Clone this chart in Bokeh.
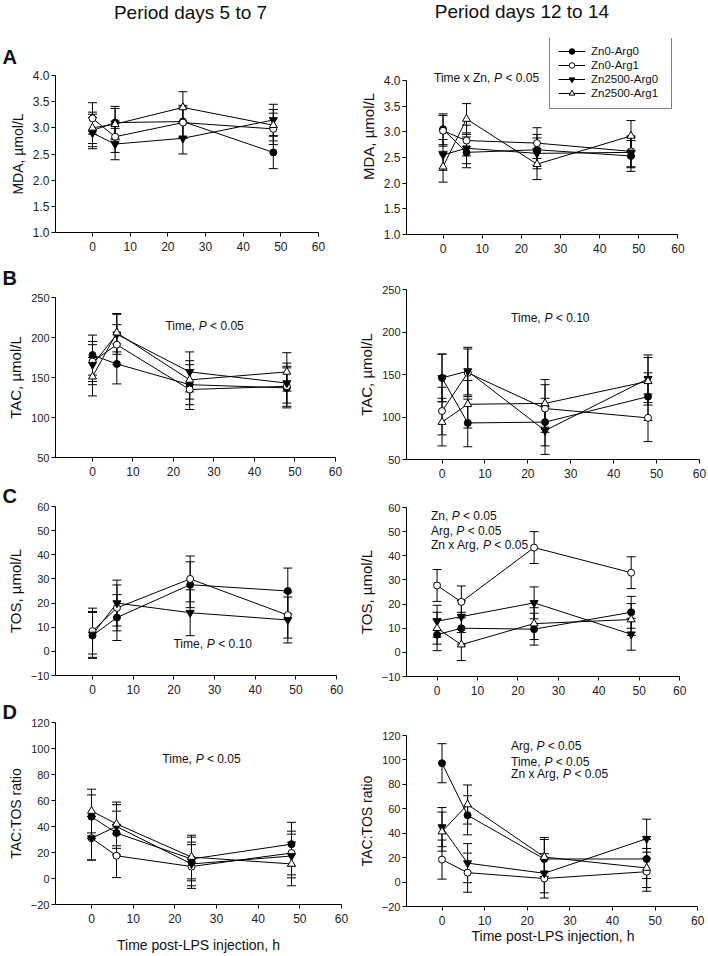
from bokeh.plotting import figure
from bokeh.models import (Range1d, FixedTicker, PrintfTickFormatter, Label, Legend, Title,
                          LegendItem, Whisker, TeeHead, ColumnDataSource)
from bokeh.layouts import row, column
from bokeh.embed import file_html
from bokeh.resources import INLINE

FONT = "Liberation Sans"

# ---------------- data ----------------
hours = [0, 6, 24, 48]
group_names = ["Zn0-Arg0", "Zn0-Arg1", "Zn2500-Arg0", "Zn2500-Arg1"]
hour_ticks = [0, 10, 20, 30, 40, 50, 60]
mda_ticks = [1.0, 1.5, 2.0, 2.5, 3.0, 3.5, 4.0]
tac_ticks = [50, 100, 150, 200, 250]
tos_ticks = [-10, 0, 10, 20, 30, 40, 50, 60]
ratio_ticks = [-20, 0, 20, 40, 60, 80, 100, 120]

# A: MDA, period days 5 to 7
mda5_zn0_arg0 = [2.95, 3.10, 3.12, 2.53]
mda5_zn0_arg1 = [3.18, 2.83, 3.10, 2.98]
mda5_zn2500_arg0 = [2.90, 2.69, 2.80, 3.15]
mda5_zn2500_arg1 = [3.00, 3.07, 3.39, 3.05]
mda5_se = [0.31, 0.30, 0.30, 0.30]
# A: MDA, period days 12 to 14
mda12_zn0_arg0 = [3.05, 2.60, 2.65, 2.53]
mda12_zn0_arg1 = [3.02, 2.83, 2.78, 2.62]
mda12_zn2500_arg0 = [2.55, 2.68, 2.58, 2.60]
mda12_zn2500_arg1 = [2.32, 3.25, 2.37, 2.92]
mda12_se = [0.30, 0.30, 0.30, 0.30]

# B: TAC
tac5_zn0_arg0 = [178, 167, 141, 137]
tac5_zn0_arg1 = [170, 191, 135, 139]
tac5_zn2500_arg0 = [166, 204, 157, 143]
tac5_zn2500_arg1 = [151, 206, 147, 157]
tac5_se = [25, 25, 25, 24]
tac12_zn0_arg0 = [146, 93, 94, 124]
tac12_zn0_arg1 = [107, 152, 110, 99]
tac12_zn2500_arg0 = [146, 154, 84, 145]
tac12_zn2500_arg1 = [94, 115, 116, 142]
tac12_se = [28, 28, 28, 28]

# C: TOS
tos5_zn0_arg0 = [6.6, 14.0, 27.6, 25.0]
tos5_zn0_arg1 = [8.4, 18.0, 30.0, 15.0]
tos5_zn2500_arg0 = [7.0, 20.0, 16.0, 13.0]
tos5_zn2500_arg1 = []
tos5_se = [9.5, 9.5, 9.5, 9.5]
tos12_zn0_arg0 = [7.3, 10.0, 9.6, 16.6]
tos12_zn0_arg1 = [27.7, 20.9, 43.4, 33.0]
tos12_zn2500_arg0 = [12.9, 14.8, 20.5, 7.5]
tos12_zn2500_arg1 = [10.0, 3.2, 11.9, 13.6]
tos12_se = [6.6, 6.6, 6.6, 6.6]

# D: TAC:TOS ratio
ratio5_zn0_arg0 = [47.5, 35.0, 15.0, 26.4]
ratio5_zn0_arg1 = [31.0, 17.5, 9.2, 19.6]
ratio5_zn2500_arg0 = [31.0, 40.0, 11.2, 17.3]
ratio5_zn2500_arg1 = [51.9, 42.0, 16.5, 11.2]
ratio5_se = [16.8, 16.8, 16.8, 16.8]
ratio12_zn0_arg0 = [97.3, 54.7, 18.9, 18.9]
ratio12_zn0_arg1 = [18.4, 7.7, 2.9, 8.5]
ratio12_zn2500_arg0 = [45.0, 15.5, 7.2, 35.5]
ratio12_zn2500_arg1 = [41.3, 63.5, 20.5, 11.5]
ratio12_se = [16.0, 16.0, 16.0, 16.0]

# ---------------- styling ----------------
STYLES = [
    dict(marker="circle", fill_color="black", size=7),
    dict(marker="circle", fill_color="white", size=7),
    dict(marker="inverted_triangle", fill_color="black", size=8),
    dict(marker="triangle", fill_color="white", size=8),
]

# column geometry: width, min_border_left, min_border_right, page x of frame left/right
LEFT_COL = (354, 55, 13, 55, 341)
RIGHT_COL = (354, 48, 9, 402, 699)

W = {' ': 278, ',': 278, '.': 278, '<': 584, 'T': 611, 'i': 222, 'm': 833, 'e': 556,
     'x': 500, 'Z': 611, 'n': 556, 'A': 667, 'r': 333, 'g': 556, 'P': 667}
for d in "0123456789":
    W[d] = 556


def text_width(s, size):
    return sum(W.get(c, 556) for c in s) * size / 1000.0


def add_text(p, x, y, text, size, style="normal", align="left", x_offset=0):
    p.add_layout(Label(x=x, y=y, text=text, text_font=FONT, text_font_size=f"{size}px",
                       text_font_style=style, text_align=align, text_baseline="middle",
                       x_offset=x_offset, text_color="#111111"))


def add_pstat(p, x, y, prefix, suffix, size=12):
    add_text(p, x, y, prefix, size)
    off = text_width(prefix + " ", size)
    add_text(p, x, y, "P", size, style="italic", x_offset=off)
    off += text_width("P ", size)
    add_text(p, x, y, suffix, size, x_offset=off)


def header(col, height, text, x, y):
    w, bl, br, fl, fr = col
    p = figure(width=w, height=height, x_range=Range1d(fl, fr), y_range=Range1d(0, height),
               x_axis_type=None, y_axis_type=None, output_backend="svg", toolbar_location=None,
               min_border=0, min_border_left=bl, min_border_right=br,
               min_border_top=0, min_border_bottom=0)
    p.outline_line_color = None
    p.background_fill_color = "white"
    p.border_fill_color = "white"
    add_text(p, x, y, text, 19, align="center")
    return p


def make_panel(col, height, bt, bb, xr, yr, yticks, yfmt, ylabel, ylab_size, ytick_size,
               series, se, ybounds=None, letter=None, letter_standoff=0, letter_valign="bottom",
               xlabel=None, xlab_standoff=4):
    w, bl, br, fl, fr = col
    p = figure(width=w, height=height, x_range=Range1d(*xr), y_range=Range1d(*yr),
               output_backend="svg", toolbar_location=None, min_border=0,
               min_border_left=bl, min_border_right=br, min_border_top=bt, min_border_bottom=bb)
    p.outline_line_color = None
    p.xgrid.visible = False
    p.ygrid.visible = False
    p.background_fill_color = "white"
    p.border_fill_color = "white"
    for ax in (p.xaxis[0], p.yaxis[0]):
        ax.axis_line_color = "black"
        ax.major_tick_line_color = "black"
        ax.minor_tick_line_color = None
        ax.major_tick_in = 0
        ax.major_tick_out = 4
        ax.major_label_text_font = FONT
        ax.major_label_text_color = "#222222"
        ax.axis_label_text_font = FONT
        ax.axis_label_text_font_style = "normal"
        ax.axis_label_text_color = "#111111"
    p.xaxis.ticker = FixedTicker(ticks=hour_ticks)
    p.xaxis.bounds = (xr[0], 60)
    p.xaxis.major_label_text_font_size = "12px"
    p.xaxis.major_label_standoff = 5
    p.yaxis.ticker = FixedTicker(ticks=yticks)
    if yfmt:
        p.yaxis.formatter = PrintfTickFormatter(format=yfmt)
    if ybounds:
        p.yaxis.bounds = ybounds
    p.yaxis.major_label_text_font_size = f"{ytick_size}px"
    p.yaxis.major_label_standoff = 2
    p.yaxis.axis_label = ylabel
    p.yaxis.axis_label_text_font_size = f"{ylab_size}px"
    p.yaxis.axis_label_standoff = 4
    if xlabel:
        p.xaxis.axis_label = xlabel
        p.xaxis.axis_label_text_font_size = "14px"
        p.xaxis.axis_label_standoff = xlab_standoff
    if letter:
        p.add_layout(Title(text=letter, align="left", offset=2 - bl, vertical_align=letter_valign,
                           standoff=letter_standoff, text_font=FONT, text_font_size="20px",
                           text_font_style="bold", text_color="#111111"), "above")

    sources = []
    for vals, err in zip(series, se):
        if not vals:
            sources.append(None)
            continue
        src = ColumnDataSource(dict(x=hours, y=vals,
                                    upper=[v + err for v in vals],
                                    lower=[v - err for v in vals]))
        sources.append(src)
        p.add_layout(Whisker(base="x", upper="upper", lower="lower", source=src,
                             line_color="black", line_width=1,
                             upper_head=TeeHead(size=9, line_color="black", line_width=1),
                             lower_head=TeeHead(size=9, line_color="black", line_width=1)))
    lines, marks = [], []
    for src in sources:
        lines.append(None if src is None else
                     p.line(x="x", y="y", source=src, line_color="black", line_width=1))
    for src, st in zip(sources, STYLES):
        marks.append(None if src is None else
                     p.scatter(x="x", y="y", source=src, marker=st["marker"], size=st["size"],
                               fill_color=st["fill_color"], line_color="black", line_width=1))
    p._lines = lines
    p._marks = marks
    return p


XLAB = "Time post-LPS injection, h"

# ---- left column (period days 5 to 7) ----
HL = header(LEFT_COL, 35, "Period days 5 to 7", 190, 23)
LA = make_panel(LEFT_COL, 221, 0, 24, (-9.82, 66.1), (1.0, 4.0), mda_ticks, "%.1f", "MDA, µmol/L", 14, 12,
                [mda5_zn0_arg0, mda5_zn0_arg1, mda5_zn2500_arg0, mda5_zn2500_arg1], mda5_se,
                letter="A", letter_standoff=16)
LB = make_panel(LEFT_COL, 226, 0, 25, (-9.14, 61.5), (50, 250), tac_ticks, None, "TAC, µmol/L", 15, 11,
                [tac5_zn0_arg0, tac5_zn0_arg1, tac5_zn2500_arg0, tac5_zn2500_arg1], tac5_se,
                letter="B", letter_standoff=17)
LC = make_panel(LEFT_COL, 216, 0, 23, (-9.10, 61.2), (-10, 60), tos_ticks, None, "TOS, µmol/L", 15, 11,
                [tos5_zn0_arg0, tos5_zn0_arg1, tos5_zn2500_arg0, tos5_zn2500_arg1], tos5_se,
                letter="C", letter_standoff=0)
LD = make_panel(LEFT_COL, 258, 0, 52, (-8.64, 60.0), (-20, 120), ratio_ticks, None, "TAC:TOS ratio", 14, 11,
                [ratio5_zn0_arg0, ratio5_zn0_arg1, ratio5_zn2500_arg0, ratio5_zn2500_arg1], ratio5_se,
                letter="D", letter_standoff=0, xlabel=XLAB, xlab_standoff=11)

# ---- right column (period days 12 to 14) ----
HR = header(RIGHT_COL, 35, "Period days 12 to 14", 519, 24)
RA = make_panel(RIGHT_COL, 227, 3, 28, (-9.33, 65.5), (1.0, 4.818), mda_ticks, "%.1f", "MDA, µmol/L", 15, 12,
                [mda12_zn0_arg0, mda12_zn0_arg1, mda12_zn2500_arg0, mda12_zn2500_arg1], mda12_se,
                ybounds=(1.0, 4.0))
RB = make_panel(RIGHT_COL, 224, 27, 27, (-8.28, 60.0), (50, 250), tac_ticks, None, "TAC, µmol/L", 15, 11,
                [tac12_zn0_arg0, tac12_zn0_arg1, tac12_zn2500_arg0, tac12_zn2500_arg1], tac12_se)
RC = make_panel(RIGHT_COL, 212, 21, 22, (-7.56, 64.9), (-10, 60), tos_ticks, None, "TOS, µmol/L", 15, 11,
                [tos12_zn0_arg0, tos12_zn0_arg1, tos12_zn2500_arg0, tos12_zn2500_arg1], tos12_se)
RD = make_panel(RIGHT_COL, 258, 37, 50, (-8.33, 60.4), (-20, 120), ratio_ticks, None, "TAC:TOS ratio", 14, 11,
                [ratio12_zn0_arg0, ratio12_zn0_arg1, ratio12_zn2500_arg0, ratio12_zn2500_arg1], ratio12_se,
                xlabel=XLAB, xlab_standoff=0)

# statistics annotations
add_pstat(RA, -2.3, 4.04, "Time x Zn,", "< 0.05")
add_pstat(LB, 18.0, 215, "Time,", "< 0.05")
add_pstat(RB, 16.1, 217, "Time,", "< 0.10")
add_pstat(LC, 19.9, 3.25, "Time,", "< 0.10")
add_pstat(RC, -1.5, 56.3, "Zn,", "< 0.05")
add_pstat(RC, -1.5, 50.1, "Arg,", "< 0.05")
add_pstat(RC, -1.5, 44.3, "Zn x Arg,", "< 0.05")
add_pstat(LD, 17.0, 91.8, "Time,", "< 0.05")
add_pstat(RD, 16.2, 111.0, "Arg,", "< 0.05")
add_pstat(RD, 16.2, 98.7, "Time,", "< 0.05")
add_pstat(RD, 16.2, 88.1, "Zn x Arg,", "< 0.05")

# legend
legend = Legend(items=[LegendItem(label=name, renderers=[ln, mk])
                       for name, ln, mk in zip(group_names, RA._lines, RA._marks)],
                location=(143, 125))
legend.border_line_color = "black"
legend.border_line_width = 1
legend.background_fill_color = "white"
legend.background_fill_alpha = 1.0
legend.label_text_font = FONT
legend.label_text_font_size = "11.5px"
legend.label_text_color = "#111111"
legend.glyph_width = 27
legend.glyph_height = 14
legend.label_height = 14
legend.label_width = 72
legend.label_standoff = 6
legend.spacing = 0
legend.padding = 8
legend.margin = 0
RA.add_layout(legend)

layout = row(column(HL, LA, LB, LC, LD), column(HR, RA, RB, RC, RD))

open("out.html", "w").write(file_html(layout, INLINE))
